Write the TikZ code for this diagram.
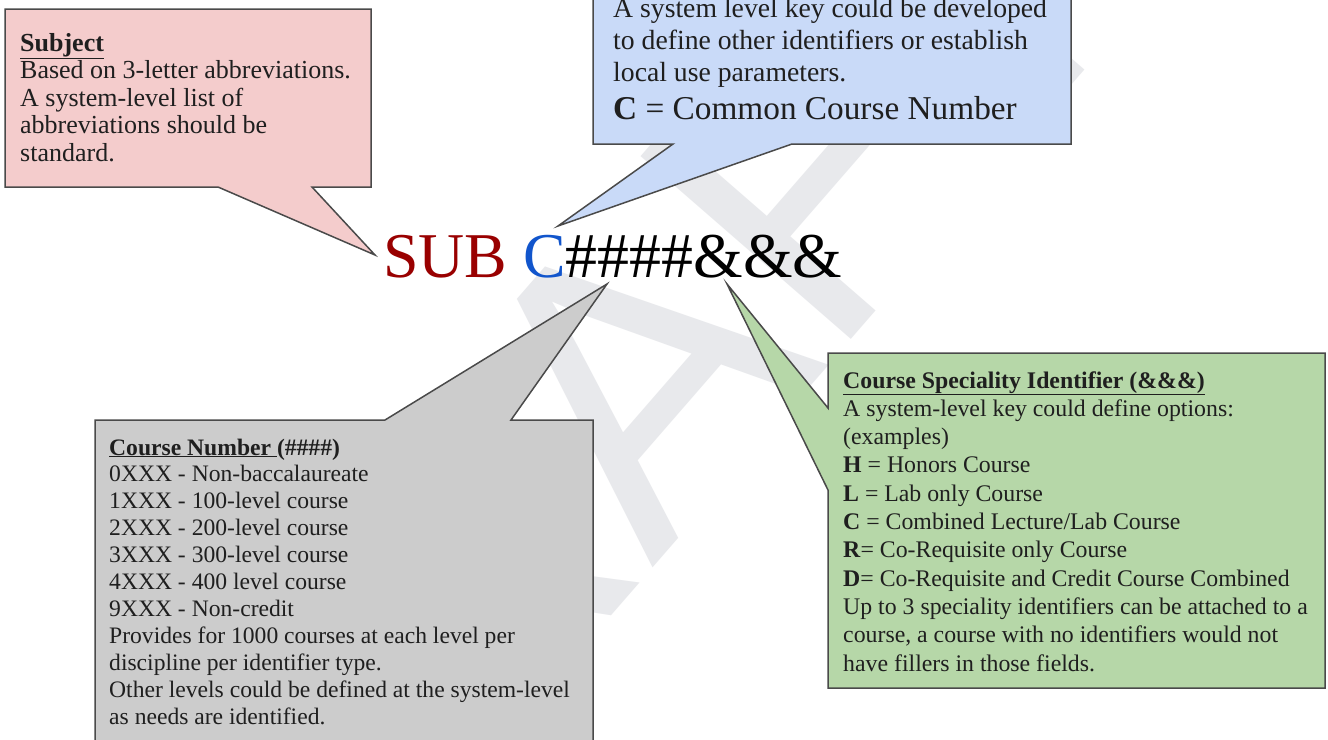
\documentclass[tikz,border=0pt]{standalone}
\usepackage{fontspec}
\setmainfont{Liberation Serif}
\newfontfamily\wmfont{Liberation Sans}
\definecolor{pinkfill}{HTML}{F4CCCC}
\definecolor{bluefill}{HTML}{C9DAF8}
\definecolor{grayfill}{HTML}{CCCCCC}
\definecolor{greenfill}{HTML}{B6D7A8}
\definecolor{edgecol}{HTML}{4A4A4A}
\definecolor{subred}{HTML}{990000}
\definecolor{cblue}{HTML}{1155CC}
\definecolor{wmcol}{HTML}{E8E9EC}
\begin{document}
\begin{tikzpicture}[x={(1pt,0)}, y={(0,-1pt)},
  callout/.style={draw=edgecol, line width=1.5pt, line join=miter},
  boxtext/.style={anchor=base west, inner sep=0pt, text=black!88}]
\useasboundingbox (0,0) rectangle (1328,739);
\begin{scope}
\clip (0,0) rectangle (1328,739);
\fill[white] (0,0) rectangle (1328,739);
% watermark
\node[rotate=49, inner sep=0pt, text=wmcol, font=\wmfont\fontsize{405}{405}\selectfont] (watermark) at (606,409) {DRAFT};

% tip coordinates
\coordinate (subjtip) at (375,255);
\coordinate (ctip) at (558,226);
\coordinate (numtip) at (607,284);
\coordinate (spectip) at (727,284);

% callouts
\filldraw[callout, fill=pinkfill] (5,9) -- (371,9) -- (371,187) -- (312,187) -- (subjtip) -- (218,187) -- (5,187) -- cycle;
\filldraw[callout, fill=bluefill] (593,-40) -- (1071,-40) -- (1071,144) -- (792,144) -- (ctip) -- (673,144) -- (593,144) -- cycle;
\filldraw[callout, fill=grayfill] (95,420) -- (385,420) -- (numtip) -- (511,420) -- (593,420) -- (593,760) -- (95,760) -- cycle;
\filldraw[callout, fill=greenfill] (828,353) -- (1325,353) -- (1325,688) -- (828,688) -- (828,490) -- (spectip) -- (828,408) -- cycle;

% texts
\node[boxtext] (subjtext) at (20,51) {\parbox[t]{345pt}{\raggedright\fontsize{26}{27.5}\selectfont
\underline{\textbf{Subject}}\\
Based on 3-letter abbreviations.\\
A system-level list of\\
abbreviations should be\\
standard.}};

\node[boxtext] (ctext) at (613,17) {\parbox[t]{450pt}{\raggedright\fontsize{27.7}{32}\selectfont
A system level key could be developed\\
to define other identifiers or establish\\
local use parameters.\par
{\fontsize{33.3}{38}\selectfont\textbf{C} = Common Course Number\par}}};

\node[anchor=base west, inner sep=0pt, font=\fontsize{63.8}{64}\selectfont] (code) at (383,277)
  {\textcolor{subred}{SUB} \textcolor{cblue}{C}\#\#\#\#\&\&\&};

\node[boxtext] (numtext) at (109,455) {\parbox[t]{470pt}{\raggedright\fontsize{23.6}{26.9}\selectfont
\underline{\textbf{Course Number\ }}\textbf{(\#\#\#\#)}\\
0XXX - Non-baccalaureate\\
1XXX - 100-level course\\
2XXX - 200-level course\\
3XXX - 300-level course\\
4XXX - 400 level course\\
9XXX - Non-credit\\
Provides for 1000 courses at each level per\\
discipline per identifier type.\\
Other levels could be defined at the system-level\\
as needs are identified.}};

\node[boxtext] (spectext) at (843,388) {\parbox[t]{475pt}{\raggedright\fontsize{23.8}{28.3}\selectfont
\underline{\textbf{Course Speciality Identifier (\&\&\&)}}\\
A system-level key could define options:\\
(examples)\\
\textbf{H} = Honors Course\\
\textbf{L} = Lab only Course\\
\textbf{C} = Combined Lecture/Lab Course\\
\textbf{R}= Co-Requisite only Course\\
\textbf{D}= Co-Requisite and Credit Course Combined\\
Up to 3 speciality identifiers can be attached to a\\
course, a course with no identifiers would not\\
have fillers in those fields.}};
\end{scope}
\end{tikzpicture}
\end{document}
